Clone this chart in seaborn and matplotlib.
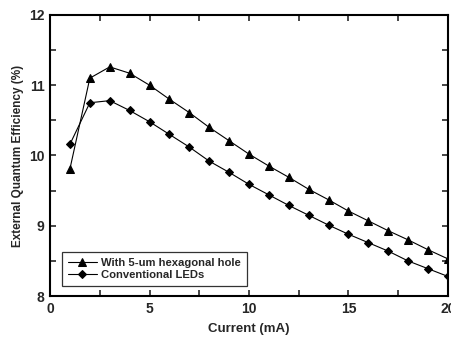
import numpy as np
import pandas as pd
import matplotlib
matplotlib.use("Agg")
import matplotlib.pyplot as plt
import seaborn as sns
from matplotlib.ticker import MultipleLocator

current = [1, 2, 3, 4, 5, 6, 7, 8, 9, 10, 11, 12, 13, 14, 15, 16, 17, 18, 19, 20]
hex_hole = [9.81, 11.10, 11.26, 11.17, 11.00, 10.80, 10.61, 10.40, 10.21, 10.02,
            9.85, 9.69, 9.52, 9.37, 9.21, 9.07, 8.93, 8.80, 8.66, 8.53]
conventional = [10.16, 10.75, 10.78, 10.64, 10.48, 10.30, 10.12, 9.92, 9.76, 9.59,
                9.44, 9.29, 9.15, 9.01, 8.88, 8.76, 8.64, 8.50, 8.39, 8.28]
series_names = ["With 5-um hexagonal hole", "Conventional LEDs"]

df = pd.concat([
    pd.DataFrame({"Current": current, "EQE": hex_hole, "Series": series_names[0]}),
    pd.DataFrame({"Current": current, "EQE": conventional, "Series": series_names[1]}),
])

sns.set_theme(style="ticks")
plt.rcParams['font.family'] = ['Liberation Sans', 'DejaVu Sans']
plt.rcParams['font.weight'] = 'bold'

fig = plt.figure(figsize=(4.51, 3.38), dpi=100)
ax = fig.add_axes([0.111, 0.124, 0.882, 0.832])

sns.lineplot(data=df, x="Current", y="EQE", hue="Series", style="Series",
             markers={series_names[0]: "^", series_names[1]: "D"},
             dashes=False, palette=["black", "black"], markersize=6,
             linewidth=0.8, markeredgecolor="black", ax=ax, legend=True)

marker_sizes = {"^": 6.0, "D": 4.3}

def resize(lines):
    for ln in lines:
        m = ln.get_marker()
        if m in marker_sizes:
            ln.set_markersize(marker_sizes[m])

resize(ax.lines)

ax.set_xlim(0, 20)
ax.set_ylim(8, 12)
ax.xaxis.set_major_locator(MultipleLocator(5))
ax.xaxis.set_minor_locator(MultipleLocator(2.5))
ax.yaxis.set_major_locator(MultipleLocator(1))
ax.yaxis.set_minor_locator(MultipleLocator(0.5))
ax.tick_params(which="both", direction="in", top=True, right=True,
               length=4, width=1.2, labelsize=10, pad=4)
for lab in ax.get_xticklabels() + ax.get_yticklabels():
    lab.set_fontweight("bold")
for s in ax.spines.values():
    s.set_linewidth(1.5)
    s.set_color("black")

ax.set_xlabel("Current (mA)", fontsize=9.5, fontweight="bold", labelpad=5)
ax.set_ylabel("External Quantum Efficiency (%)", fontsize=8.5, fontweight="bold", labelpad=3.5)

leg = ax.legend(loc="lower left", bbox_to_anchor=(0.03, 0.036), frameon=True,
                fancybox=False, edgecolor="black",
                prop={"weight": "bold", "size": 8.1}, handlelength=2.6,
                borderpad=0.5, borderaxespad=0, labelspacing=0.25, handletextpad=0.4)
leg.get_frame().set_linewidth(0.9)
resize(leg.get_lines())

fig.savefig("out.png", dpi=100)
